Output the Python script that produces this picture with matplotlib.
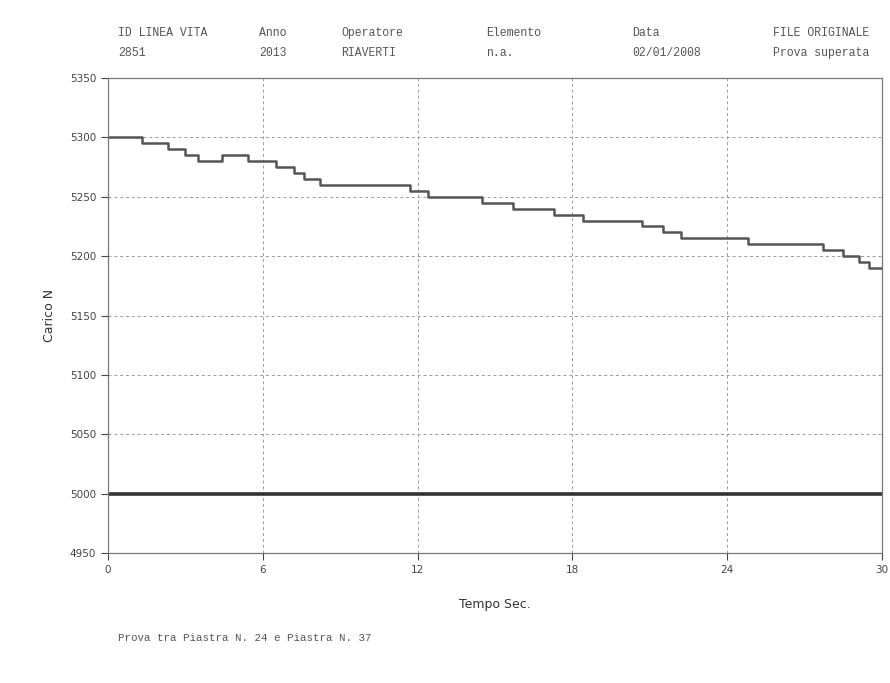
import numpy as np
import matplotlib
matplotlib.use("Agg")
import matplotlib.pyplot as plt

# step profile of the load test (time in s, load in N)
step_t = [0, 1.32, 2.33, 2.98, 3.49, 4.42, 5.43, 6.5, 7.2, 7.6, 8.2, 11.7, 12.4,
          14.5, 15.7, 17.3, 18.4, 20.7, 21.5, 22.2, 24.8, 27.7, 28.5, 29.1, 29.5, 30]
step_load = [5300, 5295, 5290, 5285, 5280, 5285, 5280, 5275, 5270, 5265, 5260, 5255, 5250,
             5245, 5240, 5235, 5230, 5225, 5220, 5215, 5210, 5205, 5200, 5195, 5190, 5190]

# reference threshold
thr_t = [0, 30]
thr_load = [5000, 5000]

x_ticks = [0, 6, 12, 18, 24, 30]
y_ticks = [4950, 5000, 5050, 5100, 5150, 5200, 5250, 5300, 5350]

header_keys = ["ID LINEA VITA", "Anno", "Operatore", "Elemento", "Data", "FILE ORIGINALE"]
header_vals = ["2851", "2013", "RIAVERTI", "n.a.", "02/01/2008", "Prova superata"]
footer = "Prova tra Piastra N. 24 e Piastra N. 37"


def main():
    fig = plt.figure(figsize=(8.9, 6.83), dpi=100)
    ax = fig.add_axes([0.1213, 0.1903, 0.8697, 0.6955])

    ax.step(step_t, step_load, where="post", color="#555555", lw=1.8)
    ax.plot(thr_t, thr_load, color="#333333", lw=2.6)

    ax.set_xlim(0, 30)
    ax.set_ylim(4950, 5350)
    ax.set_xticks(x_ticks)
    ax.set_yticks(y_ticks)
    ax.tick_params(labelsize=7.5, colors="#444444", length=5, width=0.8)
    ax.grid(True, ls=(0, (3, 3)), color="#999999", lw=0.7)
    for s in ax.spines.values():
        s.set_color("#777777")
        s.set_linewidth(0.9)

    ax.set_xlabel("Tempo Sec.", fontsize=9, color="#333333", labelpad=17)
    ax.set_ylabel("Carico N", fontsize=9, color="#333333", labelpad=10)

    hx = [118, 259, 341, 486, 632, 773]
    for x, k, v in zip(hx, header_keys, header_vals):
        fig.text(x / 890, 1 - 33 / 683, k, family="Liberation Mono", fontsize=8.3,
                 color="#555555", va="center")
        fig.text(x / 890, 1 - 53 / 683, v, family="Liberation Mono", fontsize=8.3,
                 color="#555555", va="center")

    fig.text(118 / 890, 1 - 638 / 683, footer, family="Liberation Mono", fontsize=7.8,
             color="#555555", va="center")

    fig.savefig("out.png", dpi=100)


if __name__ == "__main__":
    main()
